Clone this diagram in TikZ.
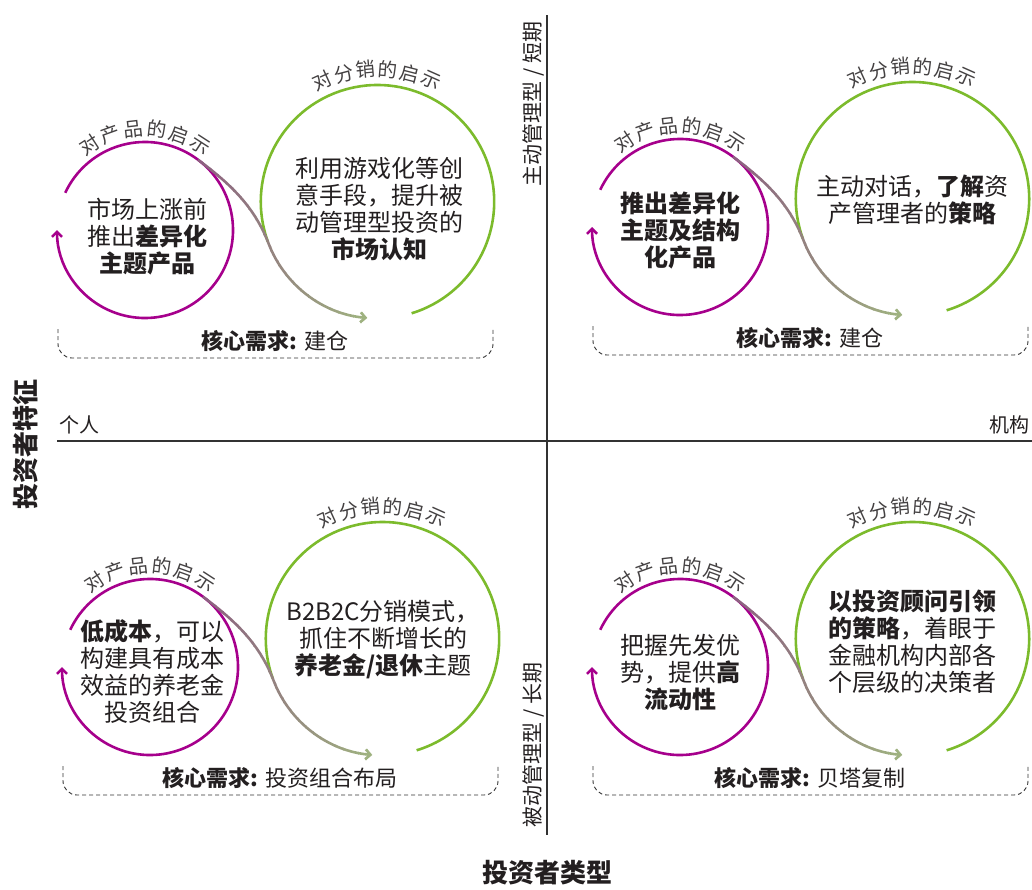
\documentclass[tikz,border=0pt]{standalone}
\usepackage{fontspec}
\setmainfont{Noto Sans CJK SC}
\usetikzlibrary{arrows.meta}
\definecolor{mag}{RGB}{166,0,140}
\definecolor{grn}{RGB}{124,187,44}
\definecolor{gstart}{RGB}{140,96,128}
\definecolor{gend}{RGB}{160,182,128}
\definecolor{txt}{RGB}{35,31,32}
\definecolor{axis}{RGB}{50,50,50}
\tikzset{
  magline/.style={draw=mag, line width=2.6pt, -{Straight Barb[length=5pt,width=10pt]}},
  grnline/.style={draw=grn, line width=2.6pt},
  gline/.style={line width=2.6pt, -{Straight Barb[length=5pt,width=10pt]}},
  bracket/.style={draw=axis, line width=0.9pt, dash pattern=on 4pt off 3pt},
  maintext/.style={align=center, font=\fontsize{24}{27}\selectfont, text=txt, inner sep=0pt},
  needtext/.style={font=\fontsize{22}{25}\selectfont, text=txt, inner sep=0pt},
  arclbl/.style={font=\fontsize{19.5}{21}\selectfont, text=txt!85, inner sep=0pt},
  axline/.style={draw=axis, line width=1.8pt},
  axtext/.style={font=\fontsize{20}{22}\selectfont, text=txt, inner sep=0pt},
  vtext/.style={font=\fontsize{21}{23}\selectfont, text=txt, inner sep=0pt},
  titletext/.style={font=\bfseries\fontsize{26}{29}\selectfont, text=txt, inner sep=0pt},
}
\newcommand\quadgfx[2]{%
  \coordinate (#1m) at (145,-230);
  \coordinate (#1g) at (377.5,-201.7);
  \draw[magline] ([shift={(155:88)}]#1m) arc[start angle=155, end angle=-180, radius=88];
  \draw[grnline] ([shift={(200:116.7)}]#1g) arc[start angle=200, end angle=-73, radius=116.7];
  \foreach \i in {0,...,23}{%
    \pgfmathsetmacro\pc{\i*100/23}%
    \begin{scope}
      \clip (196+\i*7.5-0.4,-100) rectangle (196+\i*7.5+7.9,-400);
      \draw[gline, color=gend!\pc!gstart] (198,-159.7) .. controls (230,-183.7) and (254.2,-206.1) .. (268.55,-243.5) arc[start angle=201, end angle=265, radius=116.7];
    \end{scope}
  }
  \foreach \c [count=\k from 0] in {对,产,品,的,启,示}{%
    \pgfmathsetmacro\ang{123-\k*13.2}%
    \path (#1m) ++(\ang:101.5) node[arclbl, rotate=\ang-90] (#1p\k) {\c};
  }
  \foreach \c [count=\k from 0] in {对,分,销,的,启,示}{%
    \pgfmathsetmacro\ang{114.5-\k*9.7}%
    \path (#1g) ++(\ang:132.5) node[arclbl, rotate=\ang-90] (#1d\k) {\c};
  }
  \draw[bracket, rounded corners=14pt] (58,-329) -- (58,-358) -- (493,-358) -- (493,-329);
  \node[needtext] (#1need) at (275,-341) {\textbf{核心需求:} #2};
}
\begin{document}
\begin{tikzpicture}[x=1pt,y=1pt]
\useasboundingbox (0,0) rectangle (1032,-889);
% axes
\coordinate (hl) at (57,-441);
\coordinate (hr) at (1032,-441);
\coordinate (vt) at (547,-15);
\coordinate (vb) at (547,-835);
\draw[axline] (hl) -- (hr);
\draw[axline] (vt) -- (vb);
\node[axtext, anchor=west] (ind) at (59,-425) {个人};
\node[axtext, anchor=east] (inst) at (1030,-425) {机构};
\node[titletext, rotate=90] (ychar) at (26,-444) {投资者特征};
\node[titletext] (xtype) at (547,-873) {投资者类型};
\node[vtext, rotate=90] (active) at (534,-104) {主动管理型 / 短期};
\node[vtext, rotate=90] (passive) at (534,-745) {被动管理型 / 长期};
% top-left
\begin{scope}[shift={(0,0)}]
  \quadgfx{tl}{建仓}
  \node[maintext] (tlm) at (147,-237) {市场上涨前\\推出\textbf{差异化}\\\textbf{主题产品}};
  \node[maintext] (tlg) at (379,-209) {利用游戏化等创\\意手段，提升被\\动管理型投资的\\\textbf{市场认知}};
\end{scope}
% top-right
\begin{scope}[shift={(535,3)}]
  \quadgfx{tr}{建仓}
  \node[maintext, font=\bfseries\fontsize{24}{27}\selectfont] (trm) at (145,-233) {推出差异化\\主题及结构\\化产品};
  \node[maintext] (trg) at (377,-203) {主动对话，\textbf{了解}资\\产管理者的\textbf{策略}};
\end{scope}
% bottom-left
\begin{scope}[shift={(5,-437)}]
  \quadgfx{bl}{投资组合布局}
  \node[maintext] (blm) at (147,-235) {\textbf{低成本}，可以\\构建具有成本\\效益的养老金\\投资组合};
  \node[maintext] (blg) at (378,-203) {B2B2C分销模式，\\抓住不断增长的\\\textbf{养老金/退休}主题};
\end{scope}
% bottom-right
\begin{scope}[shift={(535,-437)}]
  \quadgfx{br}{贝塔复制}
  \node[maintext] (brm) at (145,-235) {把握先发优\\势，提供\textbf{高}\\\textbf{流动性}};
  \node[maintext] (brg) at (377,-205) {\textbf{以投资顾问引领}\\\textbf{的策略}，着眼于\\金融机构内部各\\个层级的决策者};
\end{scope}
\end{tikzpicture}
\end{document}
